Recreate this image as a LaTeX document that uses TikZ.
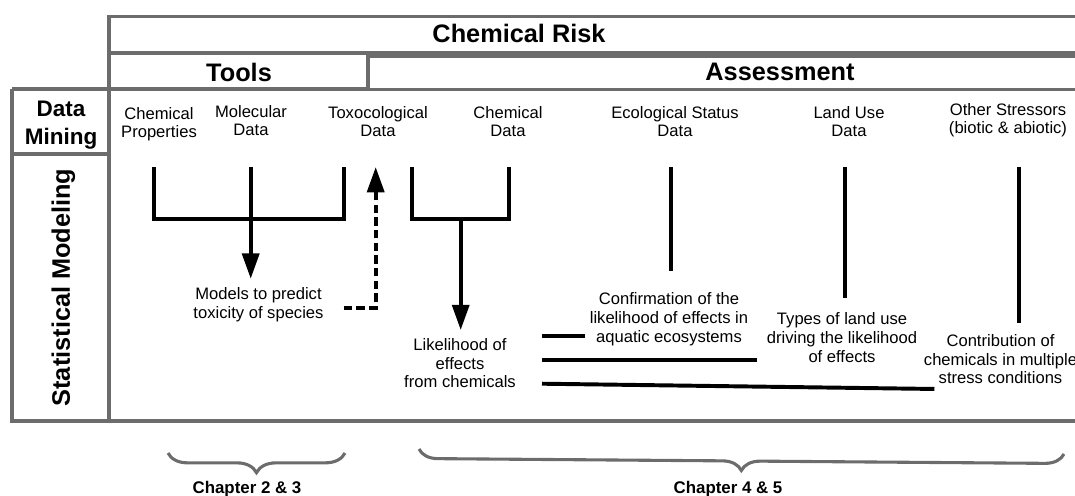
\documentclass[tikz,border=0pt]{standalone}
\usepackage{fontspec}
\setmainfont{Liberation Sans}
\usepackage{xcolor}
\usepackage{tikz}
\usetikzlibrary{arrows.meta,decorations.pathreplacing}
\definecolor{framegray}{RGB}{108,108,108}

\begin{document}
\begin{tikzpicture}[x=0.025cm,y=-0.025cm,>={Triangle[length=18pt,width=12pt]},
  frame/.style={draw=framegray,line width=2.2pt},
  leg/.style={line width=2.8pt},
  dashlink/.style={line width=2.8pt,dash pattern=on 6pt off 3pt},
  header/.style={font=\fontsize{18}{21}\selectfont\bfseries,inner sep=3.333pt},
  dataname/.style={font=\fontsize{11.8}{12.8}\selectfont,align=center,inner sep=3.333pt},
  result/.style={font=\fontsize{11.8}{13.3}\selectfont,align=center,inner sep=3.333pt},
  chapter/.style={font=\fontsize{12}{14}\selectfont\bfseries,inner sep=3.333pt},
  chbrace/.style={draw=framegray,line width=2.2pt,decorate,decoration={brace,mirror,amplitude=14pt}}]
  \useasboundingbox (0,0) rectangle (1075,495);
  \draw[frame] (1085,16.7) -- (109,16.7) -- (109,421);
  \draw[frame] (109,53) -- (1085,53);
  \draw[frame] (12,89) -- (368,89) -- (368,53);
  \draw[frame] (1085,56) -- (368,56) -- (368,89.5) -- (1085,89.5);
  \draw[frame] (12,89) -- (12,421) -- (1085,421);
  \draw[frame] (12,154) -- (109,154);

  \node[header] (risk) at (519,33) {Chemical Risk};
  \node[header] (tools) at (239,72) {Tools};
  \node[header] (assess) at (780,72) {Assessment};
  \node[header,font=\fontsize{16}{19.8}\selectfont\bfseries,align=center] (mining) at (61,125) {Data\\Mining};
  \node[header,rotate=90] (statmod) at (63.5,287.5) {Statistical Modeling};

  \node[dataname] (chemprop) at (159,123.8) {Chemical\\Properties};
  \node[dataname] (moldata) at (251,121) {Molecular\\Data};
  \node[dataname] (toxdata) at (378,122) {Toxocological\\Data};
  \node[dataname] (chemdata) at (508,122) {Chemical\\Data};
  \node[dataname] (ecodata) at (675,122) {Ecological Status\\Data};
  \node[dataname] (landdata) at (849,122) {Land Use\\Data};
  \node[dataname] (stressdata) at (1008,119.8) {Other Stressors\\(biotic \& abiotic)};

  \node[result] (models) at (258.5,305) {Models to predict\\toxicity of species};
  \node[result] (likely) at (460,363.2) {Likelihood of\\effects\\from chemicals};
  \node[result] (confirm) at (669,319.3) {Confirmation of the\\likelihood of effects in\\aquatic ecosystems};
  \node[result] (landtypes) at (842,337.4) {Types of land use\\driving the likelihood\\of effects};
  \node[result] (contrib) at (1000.5,359.2) {Contribution of\\chemicals in multiple\\stress conditions};

  \coordinate (legProp) at (154,167);
  \coordinate (legMol) at (250.7,167);
  \coordinate (legTox) at (343.7,167);
  \coordinate (toxIn) at (375.7,167);
  \coordinate (legChem) at (412,167);
  \coordinate (legChemB) at (509,167);
  \coordinate (legJoin) at (460.7,219);
  \coordinate (legEco) at (671.3,167);
  \coordinate (legLand) at (845.3,167);
  \coordinate (legStress) at (1018.7,167);
  \coordinate (busA) at (542,336);
  \coordinate (busB) at (542,360.3);
  \coordinate (busC) at (542,383.7);

  \draw[leg] (legProp) -- ++(0,52) -| (legTox);
  \draw[leg,->,shorten >=3pt] (legMol) -- (legMol |- models.north);
  \draw[dashlink,->,shorten <=10.8pt] ([yshift=-1.9pt]models.east) -| (toxIn);
  \draw[leg] (legChem) -- ++(0,52) -| (legChemB);
  \draw[leg,->,shorten >=2.4pt] (legJoin) -- (legJoin |- likely.north);
  \draw[leg,shorten >=12pt] (legEco) -- (legEco |- confirm.north);
  \draw[leg,shorten >=6.7pt] (legLand) -- (legLand |- landtypes.north);
  \draw[leg,shorten >=4.8pt] (legStress) -- (legStress |- contrib.north);
  \draw[leg] (busA) -- (confirm.west |- busA);
  \draw[leg,shorten >=3.3pt] (busB) -- (landtypes.west |- busB);
  \draw[leg] (busC) -- ([xshift=11pt]contrib.south west);

  \draw[chbrace] (168,453) -- (345,453);
  \draw[chbrace,decoration={amplitude=13.5pt}] (419,449) -- (1064,454);
  \node[chapter] (ch23) at (247,488.8) {Chapter 2 \& 3};
  \node[chapter] (ch45) at (728,488.8) {Chapter 4 \& 5};
\end{tikzpicture}
\end{document}
